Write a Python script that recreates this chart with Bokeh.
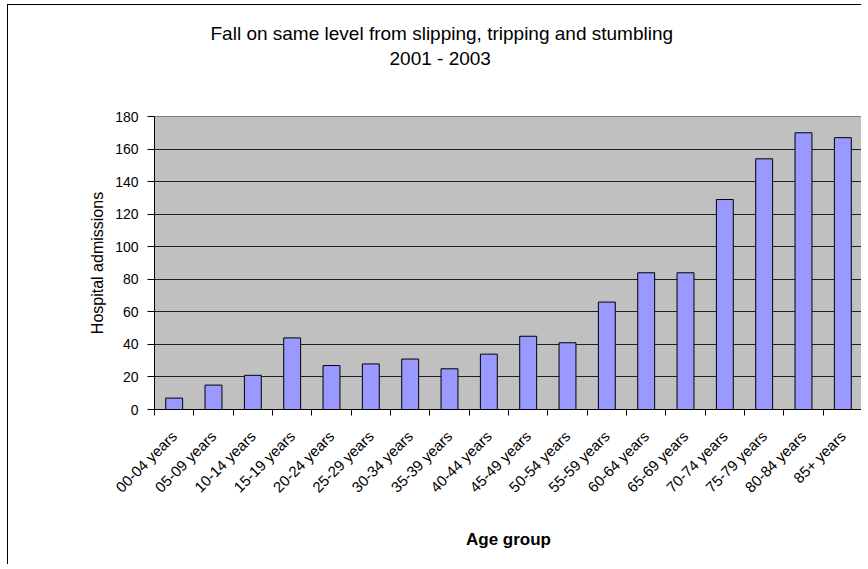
import math
from bokeh.plotting import figure
from bokeh.models import FixedTicker, Range1d, Title
from bokeh.embed import file_html
from bokeh.resources import INLINE

categories = ["00-04 years", "05-09 years", "10-14 years", "15-19 years", "20-24 years",
              "25-29 years", "30-34 years", "35-39 years", "40-44 years", "45-49 years",
              "50-54 years", "55-59 years", "60-64 years", "65-69 years", "70-74 years",
              "75-79 years", "80-84 years", "85+ years"]
admissions = [7, 15, 21, 44, 27, 28, 31, 25, 34, 45, 41, 66, 84, 84, 129, 154, 170, 167]
y_ticks = [0, 20, 40, 60, 80, 100, 120, 140, 160, 180]
title_lines = ["Fall on same level from slipping, tripping and stumbling", "2001 - 2003"]

FONT = "Liberation Sans"
n = len(categories)
xs = list(range(1, n + 1))

p = figure(width=854, height=560, output_backend="svg", toolbar_location=None,
           x_range=Range1d(0.5, n + 0.5), y_range=Range1d(0, 180),
           min_border_left=146, min_border_right=0, min_border_top=111,
           min_border_bottom=156)
p.styles = {"margin-left": "7px", "margin-top": "4px",
            "border-left": "1px solid black", "border-top": "1px solid black"}

p.background_fill_color = "#C0C0C0"
p.border_fill_color = "white"
p.outline_line_color = "#808080"
p.outline_line_width = 1

p.vbar(x=xs, top=admissions, width=0.43, bottom=0, fill_color="#9999FF",
       line_color="black", line_width=1)

# y axis
p.xgrid.grid_line_color = None
p.ygrid.grid_line_color = "#202020"
p.ygrid.grid_line_width = 1
p.yaxis.ticker = FixedTicker(ticks=y_ticks)
p.yaxis.axis_line_color = "black"
p.yaxis.major_tick_line_color = "black"
p.yaxis.major_tick_out = 7
p.yaxis.major_tick_in = 0
p.yaxis.minor_tick_line_color = None
p.yaxis.major_label_text_font = FONT
p.yaxis.major_label_text_font_size = "14px"
p.yaxis.major_label_text_color = "black"
p.yaxis.major_label_standoff = 9
p.yaxis.axis_label = "Hospital admissions"
p.yaxis.axis_label_text_font = FONT
p.yaxis.axis_label_text_font_size = "16px"
p.yaxis.axis_label_text_font_style = "normal"
p.yaxis.axis_label_text_color = "black"
p.yaxis.axis_label_standoff = 6

# x axis: labels at category centres, tick marks at category boundaries
boundaries = [i + 0.5 for i in range(0, n + 1)]
p.xaxis.ticker = FixedTicker(ticks=xs, minor_ticks=boundaries)
p.xaxis.major_label_overrides = {x: c for x, c in zip(xs, categories)}
p.xaxis.major_tick_line_color = None
p.xaxis.minor_tick_line_color = "black"
p.xaxis.minor_tick_out = 6
p.xaxis.minor_tick_in = 0
p.xaxis.axis_line_color = "black"
p.xaxis.major_label_orientation = math.pi / 4
p.xaxis.major_label_text_font = FONT
p.xaxis.major_label_text_font_size = "15px"
p.xaxis.major_label_text_color = "black"
p.xaxis.major_label_standoff = 18
p.xaxis.axis_label = "Age group"
p.xaxis.axis_label_text_font = FONT
p.xaxis.axis_label_text_font_size = "17px"
p.xaxis.axis_label_text_font_style = "bold"
p.xaxis.axis_label_text_color = "black"
p.xaxis.axis_label_standoff = 25

# two-line title (added nearest-first), with a spacer between it and the frame
p.add_layout(Title(text=" ", text_font_size="34px", standoff=5), "above")
p.add_layout(Title(text=title_lines[1], align="left", offset=235, text_font=FONT,
                   text_font_size="19px", text_font_style="normal",
                   text_color="black", standoff=5), "above")
p.add_layout(Title(text=title_lines[0], align="left", offset=56, text_font=FONT,
                   text_font_size="19px", text_font_style="normal",
                   text_color="black", standoff=0), "above")

open("out.html", "w").write(file_html(p, INLINE))
